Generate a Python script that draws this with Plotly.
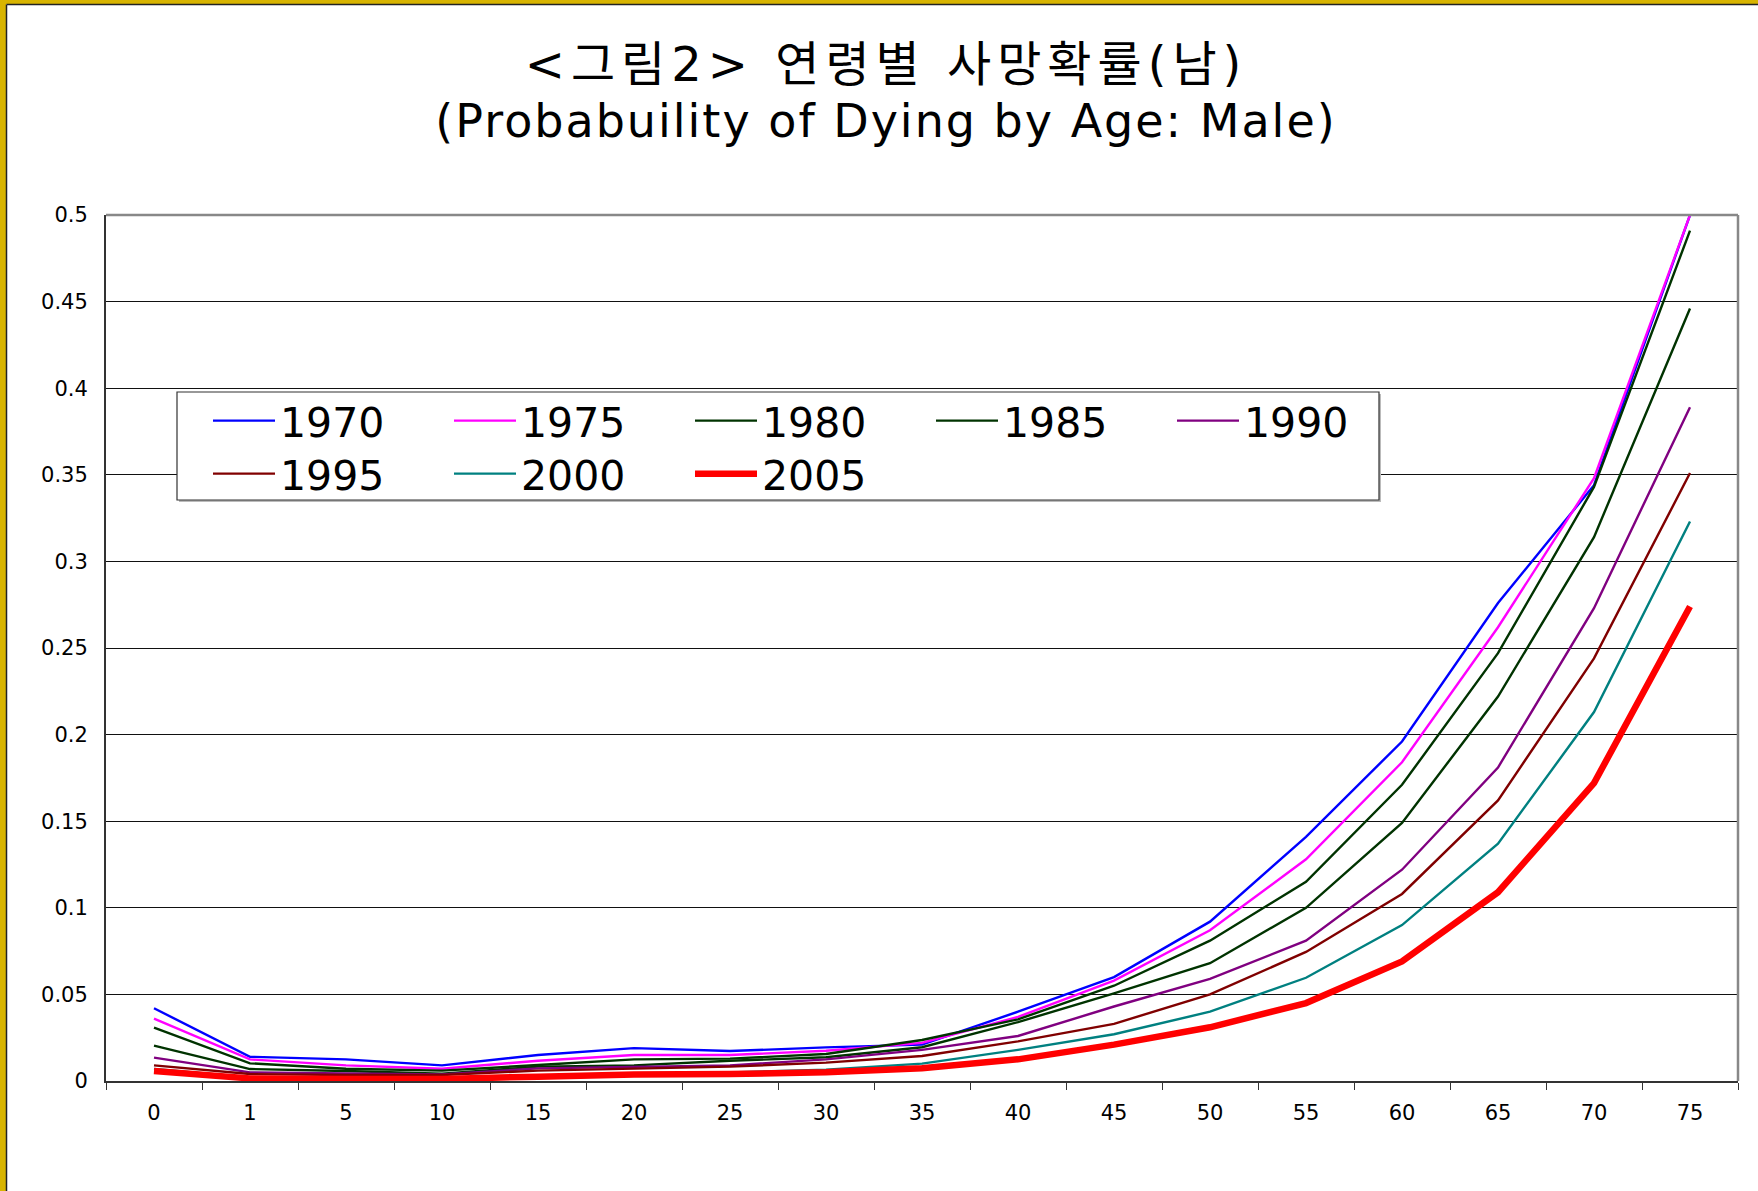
import plotly.graph_objects as go

# ---------------- data ----------------
ages = ["0", "1", "5", "10", "15", "20", "25", "30", "35", "40", "45", "50", "55", "60", "65", "70", "75"]

y1970 = [0.042, 0.014, 0.0125, 0.009, 0.015, 0.019, 0.0173, 0.0194, 0.021, 0.040, 0.060, 0.092, 0.141, 0.196, 0.276, 0.344, 0.500]
y1975 = [0.036, 0.0125, 0.009, 0.0071, 0.0117, 0.015, 0.015, 0.0175, 0.022, 0.037, 0.058, 0.087, 0.128, 0.184, 0.262, 0.348, 0.500]
y1980 = [0.0308, 0.0102, 0.0071, 0.006, 0.0092, 0.0125, 0.0129, 0.0156, 0.0237, 0.0356, 0.055, 0.081, 0.115, 0.171, 0.247, 0.343, 0.491]
y1985 = [0.0204, 0.0069, 0.0058, 0.0042, 0.0083, 0.009, 0.0117, 0.0137, 0.0195, 0.034, 0.0506, 0.068, 0.100, 0.149, 0.222, 0.314, 0.446]
y1990 = [0.0135, 0.005, 0.0044, 0.0038, 0.0073, 0.0083, 0.009, 0.0125, 0.018, 0.026, 0.043, 0.059, 0.081, 0.122, 0.181, 0.273, 0.389]
y1995 = [0.009, 0.004, 0.0035, 0.0035, 0.006, 0.0073, 0.0083, 0.0106, 0.0144, 0.0229, 0.033, 0.050, 0.0745, 0.108, 0.162, 0.244, 0.351]
y2000 = [0.007, 0.002, 0.0018, 0.0015, 0.003, 0.0045, 0.005, 0.0065, 0.010, 0.018, 0.027, 0.040, 0.0596, 0.090, 0.137, 0.213, 0.323]
y2005 = [0.0058, 0.0015, 0.0012, 0.0012, 0.0025, 0.0038, 0.004, 0.005, 0.0073, 0.0125, 0.021, 0.031, 0.045, 0.069, 0.109, 0.172, 0.274]

years = ["1970", "1975", "1980", "1985", "1990", "1995", "2000", "2005"]
series = [y1970, y1975, y1980, y1985, y1990, y1995, y2000, y2005]
colors = ["#0000FF", "#FF00FF", "#003300", "#003300", "#800080", "#800000", "#008080", "#FF0000"]
widths = [2.4, 2.4, 2.4, 2.4, 2.4, 2.4, 2.4, 6.5]

ytickvals = [0, 0.05, 0.1, 0.15, 0.2, 0.25, 0.3, 0.35, 0.4, 0.45, 0.5]
yticktext = ["0", "0.05", "0.1", "0.15", "0.2", "0.25", "0.3", "0.35", "0.4", "0.45", "0.5"]

# ---------------- layout geometry (pixels) ----------------
W, H = 1758, 1191
L, R, T, B = 106, 1738, 215, 1081
PW, PH = R - L, B - T

def px(x):
    return (x - L) / PW

def py(y):
    return (B - y) / PH

FONT = "DejaVu Sans, Noto Sans CJK KR, sans-serif"

fig = go.Figure()
for i, (yr, vals, c, w) in enumerate(zip(years, series, colors, widths)):
    fig.add_trace(go.Scatter(
        x=ages, y=vals, mode="lines", name=yr,
        line=dict(color=c, width=w),
        legend="legend" if i < 5 else "legend2",
    ))

gold = "#D8B400"
shapes = [
    # gold frame (left and top) with dark edge
    dict(type="rect", xref="paper", yref="paper", x0=px(0), x1=px(6), y0=py(H), y1=py(0),
         fillcolor=gold, line=dict(width=0), layer="below"),
    dict(type="rect", xref="paper", yref="paper", x0=px(0), x1=px(W), y0=py(4), y1=py(0),
         fillcolor=gold, line=dict(width=0), layer="below"),
    dict(type="line", xref="paper", yref="paper", x0=px(6.5), x1=px(6.5), y0=py(H), y1=py(4.5),
         line=dict(color="#222222", width=1.5), layer="below"),
    dict(type="line", xref="paper", yref="paper", x0=px(6.5), x1=px(W), y0=py(4.5), y1=py(4.5),
         line=dict(color="#222222", width=1.5), layer="below"),
    # gray top and right border of plot area
    dict(type="line", xref="paper", yref="paper", x0=0, x1=1, y0=1, y1=1,
         line=dict(color="#888888", width=2.5)),
    dict(type="line", xref="paper", yref="paper", x0=1, x1=1, y0=0, y1=1,
         line=dict(color="#888888", width=2.5)),
    # legend box shadow + box
    dict(type="rect", xref="paper", yref="paper", x0=px(179), x1=px(1381), y0=py(502), y1=py(394),
         fillcolor="#BBBBBB", line=dict(width=0), layer="above"),
    dict(type="rect", xref="paper", yref="paper", x0=px(177), x1=px(1379), y0=py(500), y1=py(392),
         fillcolor="white", line=dict(color="#333333", width=1.2), layer="above"),
]

legend_common = dict(
    orientation="h", bgcolor="rgba(0,0,0,0)", borderwidth=0,
    font=dict(family=FONT, size=41, color="black"),
    itemwidth=62, entrywidth=164, entrywidthmode="pixels",
    xanchor="left", yanchor="middle", traceorder="normal",
    itemclick=False, itemdoubleclick=False,
)

title_text = (
    "<span style=\"font-size:48px;letter-spacing:6px\">&lt;그림2&gt; 연령별 사망확률(남)</span><br>"
    "<span style=\"font-size:46px;letter-spacing:2px\">(Probabuility of Dying by Age: Male)</span>"
)

fig.update_layout(
    width=W, height=H,
    margin=dict(l=L, r=W - R, t=T, b=H - B, pad=0),
    paper_bgcolor="white", plot_bgcolor="white",
    title=dict(
        text=title_text,
        font=dict(family=FONT, size=43, color="black"),
        x=886 / W, xanchor="center", xref="container",
        y=1 - 81 / H, yanchor="top", yref="container",
    ),
    xaxis=dict(
        type="category", range=[-0.5, len(ages) - 0.5],
        showline=True, linecolor="#333333", linewidth=2,
        ticks="outside", tickson="boundaries", ticklen=7, tickcolor="#333333", tickwidth=1,
        showgrid=False, zeroline=False,
        tickfont=dict(family=FONT, size=21, color="black"),
        ticklabelstandoff=12,
    ),
    yaxis=dict(
        range=[0, 0.5], tickvals=ytickvals, ticktext=yticktext,
        showline=True, linecolor="#333333", linewidth=2,
        ticks="", showgrid=True, gridcolor="#111111", gridwidth=1,
        zeroline=False,
        tickfont=dict(family=FONT, size=21, color="black"),
        ticklabelstandoff=12,
    ),
    shapes=shapes,
    showlegend=True,
    legend=dict(legend_common, x=px(208), y=py(421)),
    legend2=dict(legend_common, x=px(208), y=py(474)),
)

fig.write_html(
    "out.html",
    config={"displayModeBar": False},
    post_script="document.body.style.margin='0';document.body.style.overflow='hidden';",
)
